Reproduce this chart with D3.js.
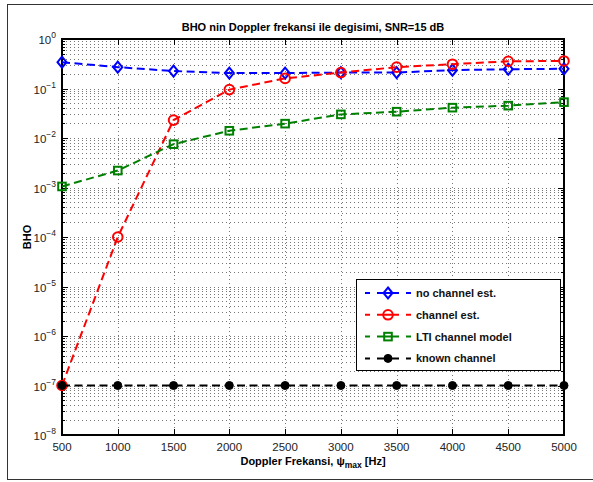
<!DOCTYPE html>
<html>
<head>
<meta charset="utf-8">
<script src="https://cdn.jsdelivr.net/npm/d3@7/dist/d3.min.js"></script>
<style>
body { margin: 0; background: #fff; }
svg text { font-family: "Liberation Sans", Arial, Helvetica, sans-serif; }
</style>
</head>
<body>
<script>
var doppler = [500, 1000, 1500, 2000, 2500, 3000, 3500, 4000, 4500, 5000];
var noChannelEst = [0.34, 0.27, 0.225, 0.205, 0.205, 0.21, 0.21, 0.235, 0.245, 0.25];
var channelEst = [1e-7, 1e-4, 0.023, 0.095, 0.16, 0.21, 0.27, 0.31, 0.355, 0.36];
var ltiModel = [0.00105, 0.0022, 0.0075, 0.014, 0.0195, 0.030, 0.034, 0.041, 0.045, 0.053];
var knownChannel = [1e-7, 1e-7, 1e-7, 1e-7, 1e-7, 1e-7, 1e-7, 1e-7, 1e-7, 1e-7];
var xTicks = [500, 1000, 1500, 2000, 2500, 3000, 3500, 4000, 4500, 5000];
var yExps = [0, -1, -2, -3, -4, -5, -6, -7, -8];
var seriesNames = ["no channel est.", "channel est.", "LTI channel model", "known channel"];

var W = 593, H = 482;
var plotL = 62, plotR = 564, plotT = 39, plotB = 435;

var svg = d3.select('body').append('svg')
	.attr('width', W)
	.attr('height', H);

// outer figure frame
svg.append('rect')
	.attr('x', 7.5).attr('y', 4.5)
	.attr('width', 600).attr('height', 475)
	.attr('fill', '#fff')
	.attr('stroke', '#333')
	.attr('stroke-width', 1);

var x = d3.scaleLinear().domain([500, 5000]).range([plotL, plotR]);
var y = d3.scaleLog().domain([1e-8, 1]).range([plotB, plotT]);

svg.append('rect')
	.attr('x', plotL).attr('y', plotT)
	.attr('width', plotR - plotL).attr('height', plotB - plotT)
	.attr('fill', '#fff');

// grid
var grid = svg.append('g')
	.attr('stroke', '#777')
	.attr('stroke-width', 1)
	.attr('stroke-dasharray', '1,3');

var minorVals = [];
for(let e = -8; e < 0; e++){
	for(let k = 1; k < 10; k++){
		minorVals.push(k * Math.pow(10, e));
	}
}
minorVals.push(1);

grid.selectAll('line.h')
	.data(minorVals)
	.enter()
	.append('line')
	.attr('x1', plotL).attr('x2', plotR)
	.attr('y1', function(d){ return Math.round(y(d)) + 0.5; })
	.attr('y2', function(d){ return Math.round(y(d)) + 0.5; });

grid.selectAll('line.v')
	.data(xTicks)
	.enter()
	.append('line')
	.attr('x1', function(d){ return Math.round(x(d)) + 0.5; })
	.attr('x2', function(d){ return Math.round(x(d)) + 0.5; })
	.attr('y1', plotT).attr('y2', plotB);

// ticks inside the box
var ticks = svg.append('g').attr('stroke', '#000').attr('stroke-width', 1);
minorVals.forEach(function(v){
	var yy = Math.round(y(v)) + 0.5;
	var major = Math.abs(Math.log10(v) - Math.round(Math.log10(v))) < 1e-9;
	var len = major ? 6 : 3;
	ticks.append('line').attr('x1', plotL).attr('x2', plotL + len).attr('y1', yy).attr('y2', yy);
	ticks.append('line').attr('x1', plotR).attr('x2', plotR - len).attr('y1', yy).attr('y2', yy);
});
xTicks.forEach(function(v){
	var xx = Math.round(x(v)) + 0.5;
	ticks.append('line').attr('x1', xx).attr('x2', xx).attr('y1', plotB).attr('y2', plotB - 6);
	ticks.append('line').attr('x1', xx).attr('x2', xx).attr('y1', plotT).attr('y2', plotT + 6);
});

// axes box
svg.append('rect')
	.attr('x', plotL).attr('y', plotT)
	.attr('width', plotR - plotL).attr('height', plotB - plotT)
	.attr('fill', 'none')
	.attr('stroke', '#000')
	.attr('stroke-width', 2);

// x tick labels
svg.append('g').selectAll('text')
	.data(xTicks)
	.enter()
	.append('text')
	.attr('x', function(d){ return x(d); })
	.attr('y', plotB + 16)
	.attr('text-anchor', 'middle')
	.attr('font-size', 11.5)
	.attr('fill', '#222')
	.text(function(d){ return d; });

// y tick labels 10^e
var yl = svg.append('g').selectAll('text')
	.data(yExps)
	.enter()
	.append('text')
	.attr('x', plotL - 6)
	.attr('y', function(d){ return y(Math.pow(10, d)) + 5; })
	.attr('text-anchor', 'end')
	.attr('font-size', 11.5)
	.attr('fill', '#222');
yl.append('tspan').text('10');
yl.append('tspan')
	.attr('dy', -6)
	.attr('font-size', 8.5)
	.text(function(d){ return d === 0 ? '0' : '\u2212' + Math.abs(d); });

// title and labels
svg.append('text')
	.attr('x', (plotL + plotR) / 2)
	.attr('y', 31)
	.attr('text-anchor', 'middle')
	.attr('font-size', 11)
	.attr('font-weight', 'bold')
	.text('BHO nin Doppler frekansi ile degisimi, SNR=15 dB');

svg.append('text')
	.attr('transform', 'translate(31,' + ((plotT + plotB) / 2) + ') rotate(-90)')
	.attr('text-anchor', 'middle')
	.attr('font-size', 11)
	.attr('font-weight', 'bold')
	.text('BHO');

var xl = svg.append('text')
	.attr('x', (plotL + plotR) / 2)
	.attr('y', 465)
	.attr('text-anchor', 'middle')
	.attr('font-size', 11)
	.attr('font-weight', 'bold');
xl.append('tspan').text('Doppler Frekansi, \u03c8');
xl.append('tspan').attr('dy', 3).attr('font-size', 8.5).text('max');
xl.append('tspan').attr('dy', -3).text(' [Hz]');

// series
var series = [
	{ name: seriesNames[0], values: noChannelEst, color: '#0000ff', marker: 'diamond' },
	{ name: seriesNames[1], values: channelEst, color: '#ff0000', marker: 'circle' },
	{ name: seriesNames[2], values: ltiModel, color: '#008000', marker: 'square' },
	{ name: seriesNames[3], values: knownChannel, color: '#000000', marker: 'dot' }
];

var line = d3.line()
	.x(function(d){ return x(d[0]); })
	.y(function(d){ return y(d[1]); });

function drawMarker(g, type, cx, cy, color){
	if(type == 'diamond'){
		g.append('path')
			.attr('d', 'M' + cx + ',' + (cy - 5.5) + 'L' + (cx + 4.5) + ',' + cy + 'L' + cx + ',' + (cy + 5.5) + 'L' + (cx - 4.5) + ',' + cy + 'Z')
			.attr('fill', 'none').attr('stroke', color).attr('stroke-width', 2);
	}
	else if(type == 'circle'){
		g.append('circle').attr('cx', cx).attr('cy', cy).attr('r', 4.8)
			.attr('fill', 'none').attr('stroke', color).attr('stroke-width', 2);
	}
	else if(type == 'square'){
		g.append('rect').attr('x', cx - 3.8).attr('y', cy - 3.8).attr('width', 7.6).attr('height', 7.6)
			.attr('fill', 'none').attr('stroke', color).attr('stroke-width', 2);
	}
	else{
		g.append('circle').attr('cx', cx).attr('cy', cy).attr('r', 4)
			.attr('fill', color).attr('stroke', color).attr('stroke-width', 1);
	}
}

series.forEach(function(s){
	var pts = doppler.map(function(d, i){ return [d, s.values[i]]; });
	var g = svg.append('g');
	g.append('path')
		.datum(pts)
		.attr('d', line)
		.attr('fill', 'none')
		.attr('stroke', s.color)
		.attr('stroke-width', 2)
		.attr('stroke-dasharray', '8,4.5');
	pts.forEach(function(p){
		drawMarker(g, s.marker, x(p[0]), y(p[1]), s.color);
	});
});

// legend
var lg = svg.append('g');
lg.append('rect')
	.attr('x', 356.5).attr('y', 279.5)
	.attr('width', 204).attr('height', 91)
	.attr('fill', '#fff')
	.attr('stroke', '#000')
	.attr('stroke-width', 1);

series.forEach(function(s, i){
	var ly = 293 + i * 21.8;
	lg.append('line')
		.attr('x1', 365).attr('x2', 411)
		.attr('y1', ly).attr('y2', ly)
		.attr('stroke', s.color)
		.attr('stroke-width', 2)
		.attr('stroke-dasharray', '5,7,22,7,5');
	drawMarker(lg, s.marker, 388, ly, s.color);
	lg.append('text')
		.attr('x', 416)
		.attr('y', ly + 4)
		.attr('font-size', 11)
		.attr('font-weight', 'bold')
		.attr('fill', '#111')
		.text(s.name);
});
</script>
</body>
</html>
